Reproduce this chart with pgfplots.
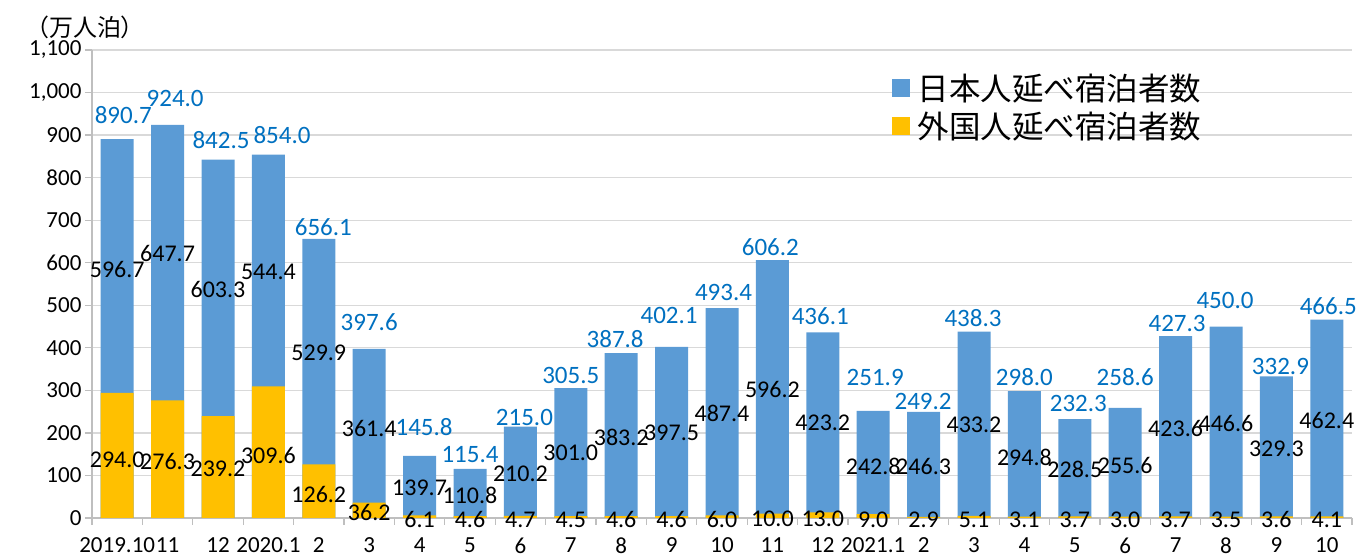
\documentclass[border=0pt]{standalone}
\usepackage{fontspec}
\setmainfont{Carlito}
\newfontfamily\cjk{Noto Sans CJK JP}
\usepackage{pgfplots}
\pgfplotsset{compat=1.18}
\definecolor{jpblue}{HTML}{5B9BD5}
\definecolor{fgold}{HTML}{FFC000}
\definecolor{lblblue}{HTML}{0070C0}
\definecolor{gridgray}{HTML}{D9D9D9}
\definecolor{axgray}{HTML}{BFBFBF}
\begin{document}
\begin{tikzpicture}
\useasboundingbox (0pt,0pt) rectangle (1358pt,559pt);
\begin{axis}[
  at={(92pt,41pt)}, anchor=south west,
  scale only axis, width=1260pt, height=468pt,
  xmin=-0.5, xmax=24.5, ymin=0, ymax=1100,
  ybar, bar width=33pt, clip=false,
  axis x line=bottom, axis y line=left,
  axis line style={-, axgray, line width=1.3pt},
  xtick={0,...,24},
  xticklabels={2019.10,11,12,2020.1,2,3,4,5,6,7,8,9,10,11,12,2021.1,2,3,4,5,6,7,8,9,10},
  minor xtick={-0.5,0.5,...,24.5},
  major x tick style={draw=none},
  minor x tick style={axgray, line width=1.3pt},
  minor tick length=7pt,
  ytick={0,100,...,1100},
  y tick style={axgray, line width=1.3pt},
  major tick length=7pt,
  tick align=outside,
  ymajorgrids, grid style={gridgray, line width=1.3pt},
  tick label style={font=\fontsize{23}{23}\selectfont, text=black},
  /pgf/number format/assume math mode=true,
  yticklabel style={/pgf/number format/1000 sep={,}},
  xticklabel style={inner sep=0pt, anchor=north, yshift=-12.5pt},
  legend style={at={(0.632,0.957)}, anchor=north west, draw=none, fill=none,
    font=\cjk\fontsize{31.5}{31.5}\selectfont, row sep=6pt,
    nodes={inner sep=2pt},
    /tikz/every odd column/.append style={column sep=6pt}},
  legend cell align=left,
  legend image code/.code={\fill[#1] (0pt,-9pt) rectangle (18pt,9pt);},
]
% totals (Japanese + foreign) drawn as blue bars
\addplot[bar shift=0pt, fill=jpblue, draw=none] coordinates {
 (0,890.7) (1,924.0) (2,842.5) (3,854.0) (4,656.1) (5,397.6) (6,145.8) (7,115.4)
 (8,215.0) (9,305.5) (10,387.8) (11,402.1) (12,493.4) (13,606.2) (14,436.1)
 (15,251.9) (16,249.2) (17,438.3) (18,298.0) (19,232.3) (20,258.6) (21,427.3)
 (22,450.0) (23,332.9) (24,466.5)};
\addlegendentry{日本人延べ宿泊者数}
% foreign guests
\addplot[bar shift=0pt, fill=fgold, draw=none] coordinates {
 (0,294.0) (1,276.3) (2,239.2) (3,309.6) (4,126.2) (5,36.2) (6,6.1) (7,4.6)
 (8,4.7) (9,4.5) (10,4.6) (11,4.6) (12,6.0) (13,10.0) (14,13.0)
 (15,9.0) (16,2.9) (17,5.1) (18,3.1) (19,3.7) (20,3.0) (21,3.7)
 (22,3.5) (23,3.6) (24,4.1)};
\addlegendentry{外国人延べ宿泊者数}
% labels: Japanese values
\addplot[forget plot, bar shift=0pt, bar width=0pt, draw=none, fill=none,
  nodes near coords, point meta=explicit symbolic,
  every node near coord/.append style={anchor=center, inner sep=0pt, text=black, font=\fontsize{24}{24}\selectfont}]
 coordinates {
 (0,585)[596.7] (1,621)[647.7] (2,536)[603.3] (3,578)[544.4] (4,388)[529.9]
 (5,211)[361.4] (6,70)[139.7] (7,54)[110.8] (8,103)[210.2] (9,153)[301.0]
 (10,190)[383.2] (11,200)[397.5] (12,246)[487.4] (13,301)[596.2] (14,223)[423.2]
 (15,122)[242.8] (16,120)[246.3] (17,219)[433.2] (18,143)[294.8] (19,115)[228.5]
 (20,124)[255.6] (21,211)[423.6] (22,223)[446.6] (23,162)[329.3] (24,230)[462.4]};
% labels: foreign values
\addplot[forget plot, bar shift=0pt, bar width=0pt, draw=none, fill=none,
  nodes near coords, point meta=explicit symbolic,
  every node near coord/.append style={anchor=center, inner sep=0pt, text=black, font=\fontsize{24}{24}\selectfont}]
 coordinates {
 (0,136)[294.0] (1,132)[276.3] (2,115)[239.2] (3,148)[309.6] (4,56)[126.2]
 (5,12)[36.2] (6,-4)[6.1] (7,-4)[4.6] (8,-4)[4.7] (9,-4)[4.5]
 (10,-4)[4.6] (11,-4)[4.6] (12,-4)[6.0] (13,-1)[10.0] (14,-1)[13.0]
 (15,-4)[9.0] (16,-4)[2.9] (17,-4)[5.1] (18,-4)[3.1] (19,-4)[3.7]
 (20,-4)[3.0] (21,-4)[3.7] (22,-4)[3.5] (23,-4)[3.6] (24,-4)[4.1]};
% labels: totals
\addplot[forget plot, bar shift=0pt, bar width=0pt, draw=none, fill=none,
  nodes near coords, point meta=explicit symbolic,
  every node near coord/.append style={anchor=center, inner sep=0pt, text=lblblue, font=\fontsize{25}{25}\selectfont}]
 coordinates {
 (0.12,947)[890.7] (1.15,987)[924.0] (2.06,889)[842.5] (3.27,900)[854.0]
 (4.09,684)[656.1] (5.0,461)[397.6] (6.09,214)[145.8] (7.0,150)[115.4]
 (8.08,237)[215.0] (9.0,336)[305.5] (9.88,421)[387.8] (10.95,477)[402.1]
 (12.03,529)[493.4] (12.96,637)[606.2] (13.95,475)[436.1] (15.04,331)[251.9]
 (15.99,275)[249.2] (16.98,470)[438.3] (18.0,331)[298.0] (19.07,268)[232.3]
 (20.0,331)[258.6] (21.03,458)[427.3] (21.98,512)[450.0] (23.08,357)[332.9]
 (24.03,498)[466.5]};
\end{axis}
\node[font=\cjk\fontsize{24}{24}\selectfont, inner sep=0pt] at (85pt,532pt) {（万人泊）};
\end{tikzpicture}
\end{document}
